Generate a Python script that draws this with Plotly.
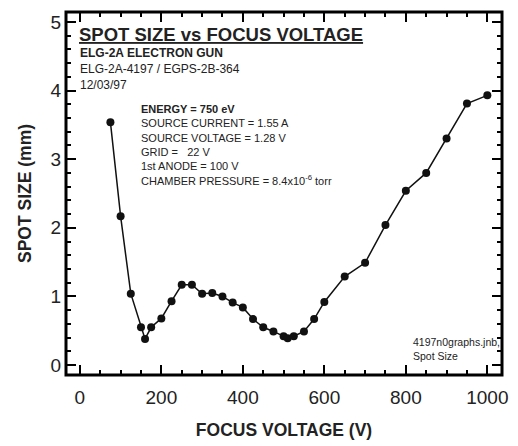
import plotly.graph_objects as go

# ---- data ----
focus_voltage = [75, 100, 125, 150, 160, 175, 200, 225, 250, 275, 300, 325, 350,
                 375, 400, 425, 450, 475, 500, 510, 525, 550, 575, 600, 650, 700,
                 750, 800, 850, 900, 950, 1000]
spot_size = [3.54, 2.17, 1.04, 0.55, 0.38, 0.55, 0.68, 0.93, 1.17, 1.17, 1.04, 1.05, 1.00,
             0.91, 0.84, 0.67, 0.55, 0.49, 0.42, 0.39, 0.42, 0.49, 0.67, 0.92, 1.29, 1.49,
             2.04, 2.54, 2.80, 3.30, 3.81, 3.93]

x_ticks = [0, 200, 400, 600, 800, 1000]
y_ticks = [0, 1, 2, 3, 4, 5]
x_minor_step = 50
y_minor_step = 0.2

title_lines = ["SPOT SIZE vs FOCUS VOLTAGE", "ELG-2A ELECTRON GUN",
               "ELG-2A-4197 / EGPS-2B-364", "12/03/97"]
param_lines = ["<b>ENERGY = 750 eV</b>", "SOURCE CURRENT = 1.55 A", "SOURCE VOLTAGE = 1.28 V",
               "GRID =   22 V", "1st ANODE = 100 V",
               "CHAMBER PRESSURE = 8.4x10<sup>-6</sup> torr"]
file_lines = ["4197n0graphs.jnb,", "Spot Size"]

FONT = "Arial, Liberation Sans, Helvetica, sans-serif"
TXT = "#222222"

W, H = 518, 446
L, R, T, B = 66, 508, 12, 377
X_RANGE = [-34, 1036]
Y_RANGE = [-0.145, 5.145]


def px(x):
    return (x - L) / (R - L)


def py(y):
    return (B - y) / (B - T)


fig = go.Figure()
# invisible copy on the overlay axes that carry the minor ticks
fig.add_trace(go.Scatter(
    x=focus_voltage, y=spot_size, xaxis="x2", yaxis="y2", mode="markers",
    marker=dict(opacity=0), hoverinfo="skip", showlegend=False))
fig.add_trace(go.Scatter(
    x=focus_voltage, y=spot_size, mode="lines+markers",
    line=dict(color="#111111", width=1.5),
    marker=dict(color="#111111", size=8), showlegend=False))

fig.update_layout(
    xaxis=dict(
        range=X_RANGE, tickmode="array", tickvals=x_ticks,
        showline=True, linecolor="black", linewidth=1, mirror="allticks",
        ticks="inside", ticklen=10, tickwidth=2, tickcolor="#000000",
        showgrid=False, zeroline=False,
        tickfont=dict(family=FONT, size=19, color=TXT),
        ticklabelstandoff=5,
        title=dict(text="<b>FOCUS VOLTAGE (V)</b>", font=dict(family=FONT, size=17.5, color=TXT), standoff=16),
    ),
    yaxis=dict(
        range=Y_RANGE, tickmode="array", tickvals=y_ticks,
        showline=True, linecolor="black", linewidth=1, mirror="allticks",
        ticks="inside", ticklen=10, tickwidth=2, tickcolor="#000000",
        showgrid=False, zeroline=False,
        tickfont=dict(family=FONT, size=19, color=TXT),
        title=dict(text="<b>SPOT SIZE (mm)</b>", font=dict(family=FONT, size=17.5, color=TXT), standoff=14),
    ),
    xaxis2=dict(
        overlaying="x", anchor="y2", side="bottom", range=X_RANGE,
        tickmode="linear", tick0=x_ticks[0], dtick=x_minor_step,
        ticks="inside", ticklen=5, tickwidth=1.5, tickcolor="#000000",
        mirror="allticks", showline=False, showticklabels=False,
        showgrid=False, zeroline=False,
    ),
    yaxis2=dict(
        overlaying="y", anchor="x2", side="left", range=Y_RANGE,
        tickmode="linear", tick0=y_ticks[0], dtick=y_minor_step,
        ticks="inside", ticklen=5, tickwidth=1.5, tickcolor="#000000",
        mirror="allticks", showline=False, showticklabels=False,
        showgrid=False, zeroline=False,
    ),
)

# thick plot frame
fig.add_shape(type="rect", xref="paper", yref="paper", x0=0, x1=1, y0=0, y1=1,
              line=dict(color="black", width=3), fillcolor="rgba(0,0,0,0)", layer="above")

ann = []
ann.append(dict(text="<b><u>" + title_lines[0] + "</u></b>", x=px(78), y=py(35),
                font=dict(family=FONT, size=18.5, color=TXT)))
ann.append(dict(text="<b>" + title_lines[1] + "</b>", x=px(79), y=py(53),
                font=dict(family=FONT, size=12, color=TXT)))
ann.append(dict(text=title_lines[2], x=px(79), y=py(69),
                font=dict(family=FONT, size=12, color=TXT)))
ann.append(dict(text=title_lines[3], x=px(79), y=py(85),
                font=dict(family=FONT, size=12, color=TXT)))
ann.append(dict(text="<br>".join(param_lines), x=px(141), y=py(102),
                yanchor="top", font=dict(family=FONT, size=11, color=TXT)))
ann.append(dict(text="<br>".join(file_lines), x=px(417), y=py(351),
                font=dict(family=FONT, size=10.5, color=TXT)))

for a in ann:
    a.setdefault("yanchor", "middle")
    a.update(xref="paper", yref="paper", xanchor="left",
             showarrow=False, align="left", borderpad=0)
fig.update_layout(annotations=ann)

fig.update_layout(
    width=W, height=H, showlegend=False,
    margin=dict(l=L, r=W - R, t=T, b=H - B),
    paper_bgcolor="white", plot_bgcolor="white",
)

fig.write_html("out.html")
